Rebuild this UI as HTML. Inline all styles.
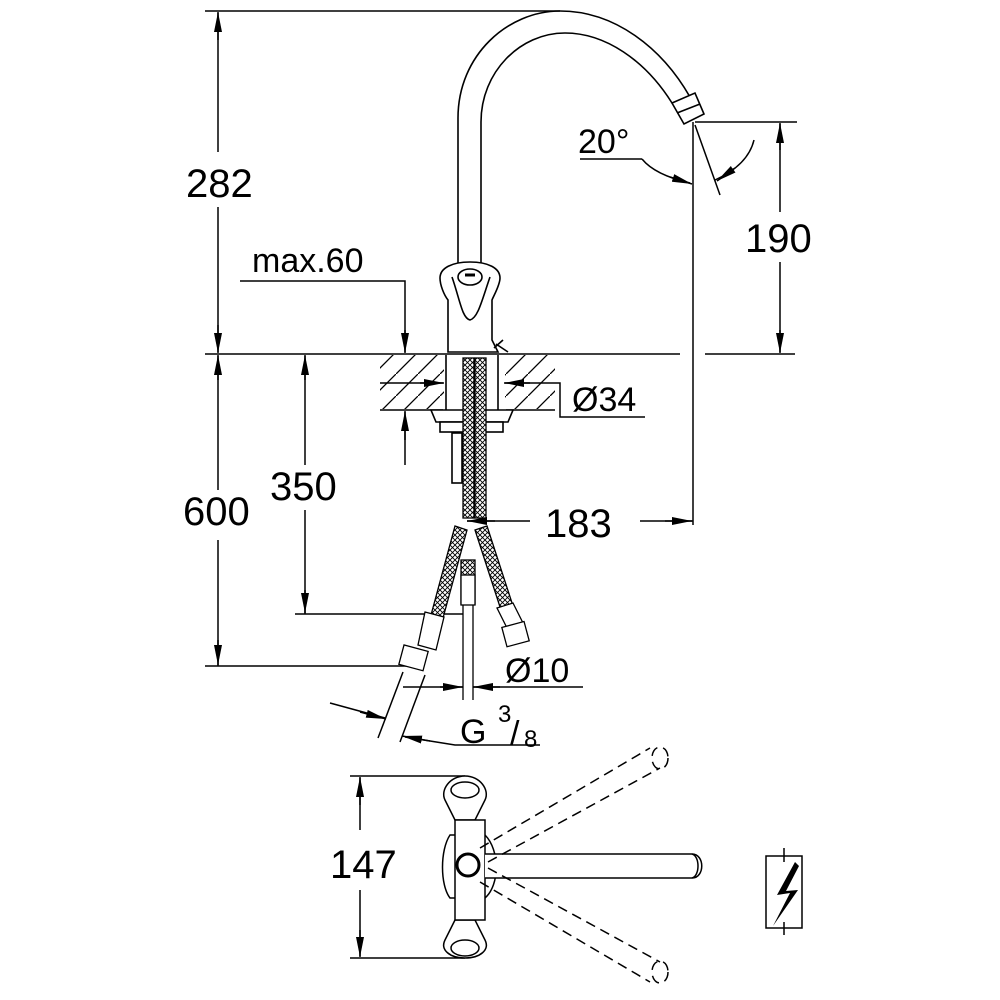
<!DOCTYPE html>
<html><head><meta charset="utf-8"><style>
html,body{margin:0;padding:0;background:#fff}
svg{display:block}
text{font-family:"Liberation Sans",Arial,sans-serif;fill:#000}
</style></head><body>
<svg width="1000" height="1000" viewBox="0 0 1000 1000" xmlns="http://www.w3.org/2000/svg">
<defs>
<marker id="a" viewBox="0 0 20 8" refX="20" refY="4" markerWidth="20" markerHeight="8" markerUnits="userSpaceOnUse" orient="auto">
<path d="M0,0 L20,4 L0,8 Z" fill="#000"/></marker>
<pattern id="h" width="22" height="22" patternUnits="userSpaceOnUse">
<path d="M0,22 L22,0" stroke="#000" stroke-width="1.3"/></pattern>
<pattern id="mesh" width="5" height="5" patternUnits="userSpaceOnUse">
<rect width="5" height="5" fill="#fff"/><path d="M0,0 L5,5 M5,0 L0,5" stroke="#000" stroke-width="0.9"/></pattern>
</defs>
<g stroke="#000" stroke-width="1.5" fill="none">
<line x1="205" y1="11" x2="560" y2="11"/>
<line x1="218" y1="13" x2="218" y2="152"/>
<line x1="218" y1="207" x2="218" y2="352" />
<line x1="205" y1="354" x2="680" y2="354"/>
<line x1="705" y1="354" x2="795" y2="354"/>
<line x1="218" y1="356" x2="218" y2="490"/>
<line x1="218" y1="540" x2="218" y2="666"/>
<line x1="205" y1="666" x2="410" y2="666"/>
<line x1="305" y1="356" x2="305" y2="465"/>
<line x1="305" y1="510" x2="305" y2="614"/>
<line x1="295" y1="614" x2="463" y2="614"/>
<polyline points="240,281 405,281 405,352"/>
<line x1="405" y1="465" x2="405" y2="412"/>
<line x1="695" y1="122" x2="797" y2="122"/>
<line x1="780" y1="124" x2="780" y2="212"/>
<line x1="780" y1="262" x2="780" y2="352"/>
<line x1="693" y1="122" x2="693" y2="525"/>
<line x1="695" y1="125" x2="720" y2="195"/>
<line x1="580" y1="159" x2="642" y2="159"/>
<path d="M642,159 Q655,175 690,183"/>
<path d="M754,140 Q748,165 715,180"/>
<line x1="380" y1="383" x2="443" y2="383"/>
<polyline points="505,383 560,383 560,417 645,417"/>
<line x1="467" y1="521" x2="530" y2="521"/>
<line x1="640" y1="521" x2="693" y2="521"/>
<line x1="403" y1="687" x2="463" y2="687"/>
<line x1="473" y1="687" x2="583" y2="687"/>
<line x1="330" y1="703" x2="385" y2="718"/>
<polyline points="405,737 455,745 540,745"/>
<line x1="378" y1="738" x2="403" y2="672"/>
<line x1="400" y1="742" x2="425" y2="675"/>
<line x1="350" y1="776" x2="465" y2="776"/>
<line x1="350" y1="958" x2="465" y2="958"/>
<line x1="360" y1="778" x2="360" y2="830"/>
<line x1="360" y1="890" x2="360" y2="956"/>
</g>
<g stroke="#000" stroke-width="1.5" fill="none">
<line x1="218" y1="40" x2="218" y2="12" marker-end="url(#a)"/>
<line x1="218" y1="325" x2="218" y2="353" marker-end="url(#a)"/>
<line x1="218" y1="380" x2="218" y2="355" marker-end="url(#a)"/>
<line x1="218" y1="640" x2="218" y2="665" marker-end="url(#a)"/>
<line x1="305" y1="380" x2="305" y2="355" marker-end="url(#a)"/>
<line x1="305" y1="590" x2="305" y2="613" marker-end="url(#a)"/>
<line x1="405" y1="330" x2="405" y2="353" marker-end="url(#a)"/>
<line x1="405" y1="440" x2="405" y2="411" marker-end="url(#a)"/>
<line x1="780" y1="150" x2="780" y2="123" marker-end="url(#a)"/>
<line x1="780" y1="330" x2="780" y2="353" marker-end="url(#a)"/>
<line x1="420" y1="383" x2="444" y2="383" marker-end="url(#a)"/>
<line x1="530" y1="383" x2="504" y2="383" marker-end="url(#a)"/>
<line x1="495" y1="521" x2="467" y2="521" marker-end="url(#a)"/>
<line x1="665" y1="521" x2="692" y2="521" marker-end="url(#a)"/>
<line x1="440" y1="687" x2="463" y2="687" marker-end="url(#a)"/>
<line x1="500" y1="687" x2="473" y2="687" marker-end="url(#a)"/>
<line x1="360" y1="712" x2="386" y2="719" marker-end="url(#a)"/>
<line x1="430" y1="741" x2="402" y2="736" marker-end="url(#a)"/>
<line x1="360" y1="805" x2="360" y2="777" marker-end="url(#a)"/>
<line x1="360" y1="930" x2="360" y2="957" marker-end="url(#a)"/>
<line x1="670" y1="177" x2="692" y2="184" marker-end="url(#a)"/>
<line x1="735" y1="168" x2="717" y2="181" marker-end="url(#a)"/>
</g>
<rect x="380" y="355" width="64" height="54" fill="url(#h)"/>
<rect x="505" y="355" width="50" height="54" fill="url(#h)"/>
<g stroke="#000" stroke-width="1.6" fill="none">
<line x1="380" y1="410" x2="443" y2="410"/>
<line x1="506" y1="410" x2="555" y2="410"/>
<path d="M458,268 L458,118 C458,55 508,11 560,11 C615,11 662,48 690,97"/>
<path d="M481,268 L481,122 C481,72 520,33 565,33 C605,33 645,60 672,103"/>
<path d="M672,103 L695,93 L704,114 L684,124 Z" fill="#fff"/>
<line x1="677" y1="113" x2="700" y2="104"/>
<path d="M448,352 L448,300 C444,295 440,285 440,278 C440,268 452,262 470,262 C488,262 500,268 500,278 C500,285 494,295 492,300 L492,340 L498,352 Z" fill="#fff"/>
<path d="M452,277 C460,300 462,318 470,320 C478,318 482,300 490,277"/>
<ellipse cx="470" cy="277" rx="12" ry="8"/>
<line x1="465" y1="275" x2="475" y2="275" stroke-width="3"/>
<path d="M496,344 L508,352 M494,348 L503,340"/>
<line x1="446" y1="355" x2="446" y2="410"/>
<line x1="498" y1="355" x2="498" y2="410"/>
<path d="M431,410 L513,410 L508,422 L436,422 Z" fill="#fff"/>
<rect x="440" y="422" width="63" height="10" fill="#fff"/>
<rect x="452" y="433" width="10" height="50"/>
</g>
<g stroke="#000" stroke-width="1.3">
<rect x="463" y="358" width="11" height="160" fill="url(#mesh)"/>
<rect x="475" y="358" width="11" height="160" fill="url(#mesh)"/>
<polygon points="455,526 467,530 443,618 431,615" fill="url(#mesh)"/>
<polygon points="475,530 487,526 513,606 501,610" fill="url(#mesh)"/>
<rect x="461" y="560" width="14" height="44" fill="url(#mesh)"/>
<g fill="#fff">
<rect x="461" y="575" width="14" height="30"/>
<polygon points="425,612 444,617 436,650 418,645"/>
<polygon points="497,608 513,603 524,625 508,630"/>
<rect x="401" y="648" width="25" height="20" transform="rotate(15 414 658)"/>
<rect x="504" y="624" width="23" height="20" transform="rotate(-15 516 634)"/>
</g>
<line x1="463" y1="605" x2="463" y2="700" fill="none"/>
<line x1="473" y1="605" x2="473" y2="700" fill="none"/>
</g>
<g stroke="#000" stroke-width="1.5" fill="none">
<path d="M455,820 L445,800 C440,790 450,776 465,776 C480,776 490,790 485,800 L475,820 Z" fill="#fff"/>
<ellipse cx="465" cy="790" rx="14" ry="8"/>
<path d="M455,920 L445,940 C440,950 450,958 465,958 C480,958 490,950 485,940 L475,920 Z" fill="#fff"/>
<ellipse cx="465" cy="948" rx="14" ry="8"/>
<path d="M450,835 C440,850 440,885 450,898 L485,898 C500,885 500,850 485,835 Z" fill="#fff"/>
<rect x="455" y="820" width="30" height="100" fill="#fff"/>
<path d="M485,854 L692,854 C705,854 705,878 692,878 L485,878" fill="#fff"/>
<path d="M692,854 C700,856 700,876 692,878" />
<circle cx="468" cy="865" r="11" stroke-width="3"/>
<g stroke-dasharray="10,6">
<line x1="480" y1="848" x2="650" y2="748"/>
<line x1="488" y1="862" x2="660" y2="768"/>
<line x1="480" y1="882" x2="650" y2="982"/>
<line x1="488" y1="868" x2="660" y2="962"/>
<ellipse cx="660" cy="758" rx="8" ry="11"/>
<ellipse cx="660" cy="972" rx="8" ry="11"/>
</g>
<rect x="766" y="856" width="36" height="72"/>
<line x1="784" y1="848" x2="784" y2="862"/>
<line x1="784" y1="922" x2="784" y2="935"/>
</g>
<path d="M795,862 L777,895 L790,893 L773,926 L798,890 L786,891 L799,866 Z" fill="#000"/>
<g font-size="40">
<text x="186" y="197">282</text>
<text x="183" y="525">600</text>
<text x="270" y="500">350</text>
<text x="745" y="252">190</text>
<text x="545" y="537">183</text>
<text x="330" y="878">147</text>
</g>
<g font-size="34">
<text x="252" y="272">max.60</text>
<text x="578" y="153">20°</text>
<text x="572" y="411">Ø34</text>
<text x="505" y="682">Ø10</text>
<text x="460" y="743">G</text>
<text x="498" y="722" font-size="24">3</text>
<text x="510" y="745">/</text>
<text x="524" y="747" font-size="24">8</text>
</g>
</svg>
</body></html>
